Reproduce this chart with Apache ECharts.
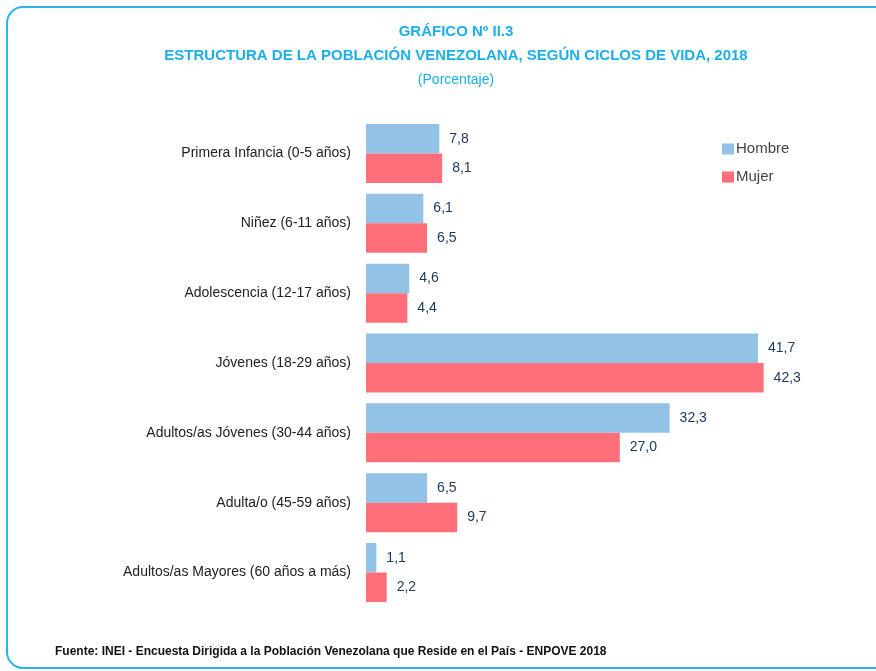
<!DOCTYPE html>
<html><head><meta charset="utf-8">
<script src="https://cdn.jsdelivr.net/npm/echarts@6/dist/echarts.min.js"></script>
<style>html,body{margin:0;padding:0;background:#fff}#c{width:876px;height:671px}</style>
</head><body><div id="c"></div>
<script>
const categories = ['Primera Infancia (0-5 años)','Niñez (6-11 años)','Adolescencia (12-17 años)','Jóvenes (18-29 años)','Adultos/as Jóvenes (30-44 años)','Adulta/o (45-59 años)','Adultos/as Mayores (60 años a más)'];
const hombre = [7.8, 6.1, 4.6, 41.7, 32.3, 6.5, 1.1];
const mujer = [8.1, 6.5, 4.4, 42.3, 27.0, 9.7, 2.2];
const seriesNames = ['Hombre','Mujer'];

const FONT = '"Liberation Sans",Arial,sans-serif';
const chart = echarts.init(document.getElementById('c'), null, {renderer:'canvas'});
const lbl = {show:true, position:'right', distance:10, color:'#1f3a60', fontFamily:FONT, fontSize:14,
  formatter: p => p.value.toFixed(1).replace('.', ',')};
chart.setOption({
  animation:false,
  backgroundColor:'#fff',
  graphic:[
    {type:'rect', shape:{x:7,y:7,width:920,height:661,r:16}, style:{fill:'none',stroke:'#29b5ec',lineWidth:2}},
    {type:'text', x:456, y:32, style:{text:'GRÁFICO Nº II.3', textAlign:'center', textVerticalAlign:'middle', fill:'#1cb0e8', font:'bold 15px '+FONT}},
    {type:'text', x:456, y:56, style:{text:'ESTRUCTURA DE LA POBLACIÓN VENEZOLANA, SEGÚN CICLOS DE VIDA, 2018', textAlign:'center', textVerticalAlign:'middle', fill:'#1cb0e8', font:'bold 15px '+FONT}},
    {type:'text', x:456, y:80, style:{text:'(Porcentaje)', textAlign:'center', textVerticalAlign:'middle', fill:'#1cb0e8', font:'14px '+FONT}},
    {type:'text', x:55, y:652, style:{text:'Fuente: INEI - Encuesta Dirigida a la Población Venezolana que Reside en el País - ENPOVE 2018', textAlign:'left', textVerticalAlign:'middle', fill:'#111', font:'bold 12px '+FONT}}
  ],
  legend:{orient:'vertical', left:717, top:136.5, itemWidth:12, itemHeight:11, itemGap:13, icon:'rect',
    textStyle:{color:'#444', fontFamily:FONT, fontSize:15, padding:[0,0,0,-3]}, data:seriesNames},
  grid:{left:366, top:118.6, height:488.8, right:40, containLabel:false},
  xAxis:{type:'value', min:0, max:50, show:false},
  yAxis:{type:'category', data:categories, inverse:true,
    axisLine:{show:false}, axisTick:{show:false},
    axisLabel:{margin:15, color:'#222', fontFamily:FONT, fontSize:14}},
  series:[
    {name:seriesNames[0], type:'bar', data:hombre, barGap:'0%', barCategoryGap:'15.5%', itemStyle:{color:'#92c3e6'}, label:lbl},
    {name:seriesNames[1], type:'bar', data:mujer, barGap:'0%', barCategoryGap:'15.5%', itemStyle:{color:'#ff6f79'}, label:lbl}
  ]
});
</script></body></html>
